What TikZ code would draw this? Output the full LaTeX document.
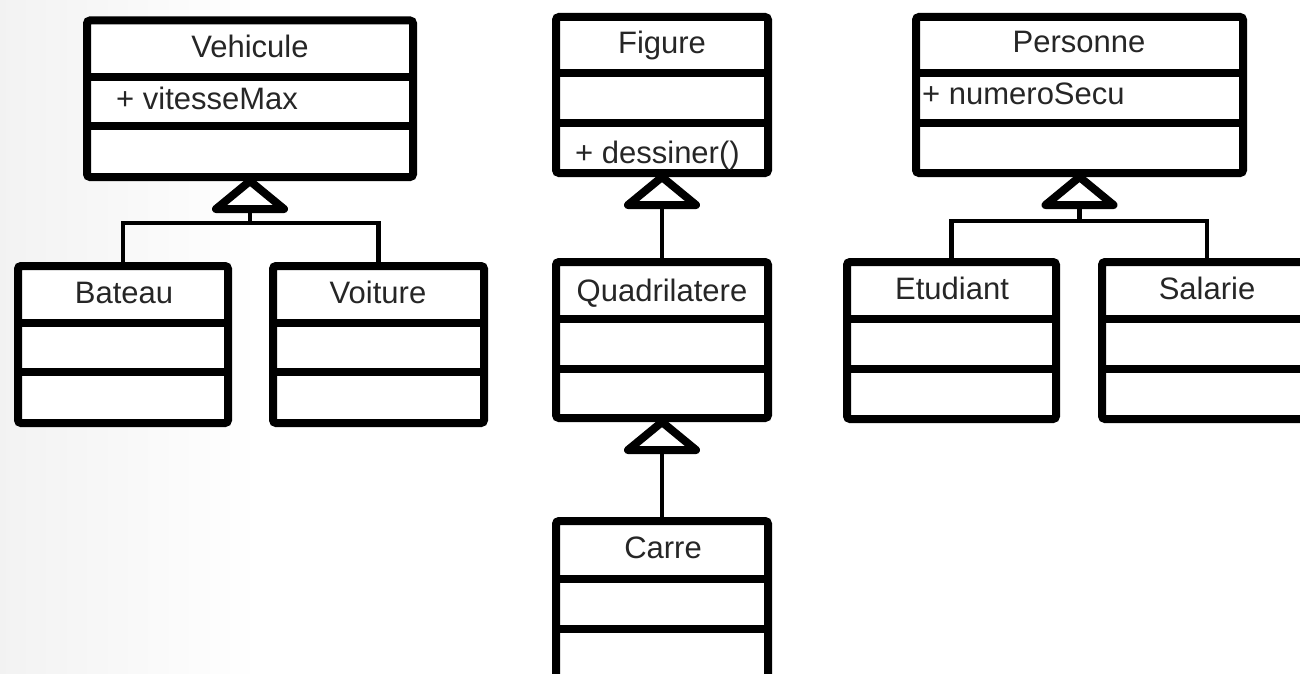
\documentclass[tikz,border=0pt]{standalone}
\usepackage{fontspec}
\setmainfont{Liberation Sans}
\begin{document}
\begin{tikzpicture}[x=1pt,y=-1pt,
  classbox/.style={draw=black, line width=8pt, fill=white, rounded corners=3pt, inner sep=0pt},
  sepline/.style={line width=8pt},
  conn/.style={line width=4.5pt},
  gentri/.style={draw=black, line width=8pt, fill=white, line join=round},
  lbl/.style={font=\fontsize{31}{37}\selectfont, text=black!85, inner sep=0pt, anchor=base}]

\useasboundingbox (0,0) rectangle (1300,674);
\clip (0,0) rectangle (1300,674);
\fill[white] (0,0) rectangle (1300,674);
\shade[left color=black!5, right color=white] (0,0) rectangle (260,674);

% ---------- class boxes ----------
\node[classbox, minimum width=326pt, minimum height=156.5pt] (veh) at (250,98.75) {};
\node[classbox, minimum width=210pt, minimum height=157pt] (bat) at (123,344.5) {};
\node[classbox, minimum width=211pt, minimum height=157pt] (voi) at (378.5,344.5) {};
\node[classbox, minimum width=212pt, minimum height=156pt] (fig) at (662,95) {};
\node[classbox, minimum width=212pt, minimum height=156pt] (quad) at (662,340) {};
\node[classbox, minimum width=212pt, minimum height=157pt] (car) at (662,599.5) {};
\node[classbox, minimum width=327pt, minimum height=156pt] (per) at (1079.5,95) {};
\node[classbox, minimum width=209pt, minimum height=157pt] (etu) at (951.5,340.5) {};
\node[classbox, minimum width=210pt, minimum height=157pt] (sal) at (1207,340.5) {};

% ---------- compartment separators ----------
\foreach \b/\ya/\yb in {veh/77/126, bat/323/372, voi/323/372, fig/73/123, quad/319/369,
                        car/579/629, per/73/123, etu/319/369, sal/319/369}{
  \draw[sepline] (\b.west |- 0,\ya) -- (\b.east |- 0,\ya);
  \draw[sepline] (\b.west |- 0,\yb) -- (\b.east |- 0,\yb);
}

% ---------- labels ----------
\node[lbl] (vehT) at (250,58) {Vehicule};
\node[lbl, anchor=base west] (vehA) at (116,110) {+ vitesseMax};
\node[lbl] (batT) at (124,303) {Bateau};
\node[lbl] (voiT) at (378,303) {Voiture};
\node[lbl] (figT) at (662,54) {Figure};
\node[lbl, anchor=base west] (figM) at (575,163) {+ dessiner()};
\node[lbl] (quadT) at (662,301) {Quadrilatere};
\node[lbl] (carT) at (663,558) {Carre};
\node[lbl] (perT) at (1079,53) {Personne};
\node[lbl, anchor=base west] (perA) at (922,105) {+ numeroSecu};
\node[lbl] (etuT) at (952,299) {Etudiant};
\node[lbl] (salT) at (1207,299) {Salarie};

% ---------- generalisation connectors ----------
\coordinate (vehJ) at (veh.south |- 0,223);
\draw[conn] (bat.north) |- (vehJ) -| (voi.north);
\draw[conn] (vehJ) -- ([yshift=-28pt]veh.south);
\draw[gentri] (veh.south) -- ++(-34,28) -- ++(68,0) -- cycle;

\draw[conn] (quad.north) -- ([yshift=-28pt]fig.south);
\draw[gentri] (fig.south) -- ++(-34,28) -- ++(68,0) -- cycle;

\draw[conn] (car.north) -- ([yshift=-28pt]quad.south);
\draw[gentri] (quad.south) -- ++(-34,28) -- ++(68,0) -- cycle;

\coordinate (perJ) at (per.south |- 0,221);
\draw[conn] (etu.north) |- (perJ) -| (sal.north);
\draw[conn] (perJ) -- ([yshift=-28pt]per.south);
\draw[gentri] (per.south) -- ++(-34,28) -- ++(68,0) -- cycle;
\end{tikzpicture}
\end{document}
